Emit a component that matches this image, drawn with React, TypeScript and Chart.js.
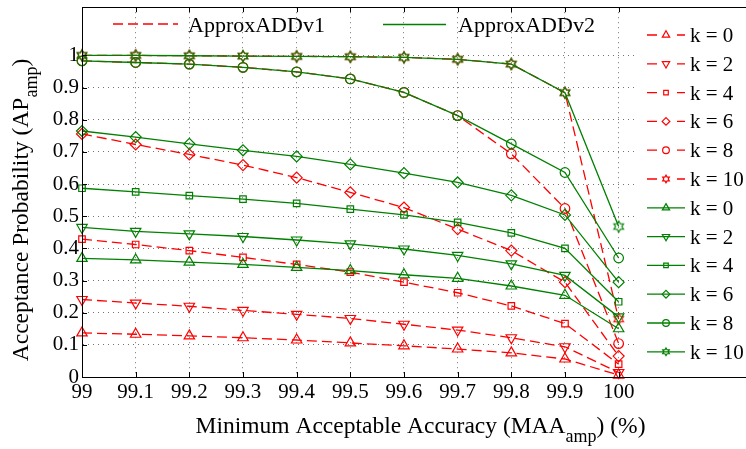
import React, { useEffect, useRef } from 'react';
import { Chart, registerables } from 'chart.js';

Chart.register(...registerables);

// ---------- data ----------
const X_VALUES = [99, 99.1, 99.2, 99.3, 99.4, 99.5, 99.6, 99.7, 99.8, 99.9, 100];
const X_TICKS = [99, 99.1, 99.2, 99.3, 99.4, 99.5, 99.6, 99.7, 99.8, 99.9, 100];
const X_TICK_LABELS = ['99', '99.1', '99.2', '99.3', '99.4', '99.5', '99.6', '99.7', '99.8', '99.9', '100'];
const Y_TICKS = [0, 0.1, 0.2, 0.3, 0.4, 0.5, 0.6, 0.7, 0.8, 0.9, 1];
const Y_TICK_LABELS = ['0', '0.1', '0.2', '0.3', '0.4', '0.5', '0.6', '0.7', '0.8', '0.9', '1'];
const K_LABELS = ['k = 0', 'k = 2', 'k = 4', 'k = 6', 'k = 8', 'k = 10'];
const SERIES_NAMES = ['ApproxADDv1', 'ApproxADDv2'];

// ApproxADDv1 (red dashed)
const V1_K0 = [0.137, 0.133, 0.128, 0.122, 0.115, 0.106, 0.097, 0.087, 0.075, 0.056, 0.006];
const V1_K2 = [0.241, 0.230, 0.220, 0.207, 0.195, 0.182, 0.164, 0.146, 0.122, 0.094, 0.014];
const V1_K4 = [0.429, 0.412, 0.393, 0.372, 0.350, 0.326, 0.295, 0.262, 0.221, 0.166, 0.040];
const V1_K6 = [0.756, 0.723, 0.692, 0.659, 0.620, 0.574, 0.527, 0.460, 0.393, 0.295, 0.065];
const V1_K8 = [0.983, 0.978, 0.973, 0.963, 0.949, 0.927, 0.885, 0.813, 0.694, 0.524, 0.104];
const V1_K10 = [1.0, 1.0, 0.999, 0.998, 0.997, 0.996, 0.994, 0.988, 0.973, 0.884, 0.180];

// ApproxADDv2 (green solid)
const V2_K0 = [0.369, 0.364, 0.357, 0.350, 0.341, 0.331, 0.318, 0.307, 0.283, 0.254, 0.150];
const V2_K2 = [0.465, 0.453, 0.445, 0.437, 0.426, 0.414, 0.398, 0.378, 0.352, 0.316, 0.187];
const V2_K4 = [0.587, 0.576, 0.564, 0.553, 0.540, 0.522, 0.504, 0.481, 0.448, 0.400, 0.234];
const V2_K6 = [0.765, 0.746, 0.725, 0.705, 0.686, 0.661, 0.634, 0.605, 0.565, 0.504, 0.295];
const V2_K8 = [0.983, 0.978, 0.973, 0.963, 0.949, 0.927, 0.885, 0.813, 0.725, 0.636, 0.370];
const V2_K10 = [1.0, 1.0, 0.999, 0.998, 0.997, 0.996, 0.994, 0.988, 0.973, 0.884, 0.468];

const V1_SERIES = [V1_K0, V1_K2, V1_K4, V1_K6, V1_K8, V1_K10];
const V2_SERIES = [V2_K0, V2_K2, V2_K4, V2_K6, V2_K8, V2_K10];

// ---------- styles ----------
const RED = '#ff0000';
const GREEN = '#008000';
const FONT = '"Liberation Serif", "Times New Roman", serif';
const MARKERS = ['triangle', 'triangleDown', 'rect', 'rectRot', 'circle', 'hex'];
const RADII = [6, 6, 4.6, 5.5, 4.8, 5.5];
const DASH = [10, 5];

function hexPath(ctx: CanvasRenderingContext2D, x: number, y: number, R: number) {
  const r = R / Math.sqrt(3);
  ctx.beginPath();
  for (let i = 0; i < 12; i++) {
    const ang = -Math.PI / 2 + (i * Math.PI) / 6;
    const rad = i % 2 === 0 ? R : r;
    const px = x + rad * Math.cos(ang);
    const py = y + rad * Math.sin(ang);
    if (i === 0) ctx.moveTo(px, py);
    else ctx.lineTo(px, py);
  }
  ctx.closePath();
}

function makeHexImage(color: string, R: number, lw: number) {
  const c = document.createElement('canvas');
  const size = 2 * Math.ceil(R + 2);
  c.width = size;
  c.height = size;
  const g = c.getContext('2d')!;
  g.strokeStyle = color;
  g.lineWidth = lw;
  hexPath(g, size / 2, size / 2, R);
  g.stroke();
  return c;
}

function drawMarker(ctx: CanvasRenderingContext2D, style: string, x: number, y: number, r: number) {
  ctx.beginPath();
  if (style === 'triangle' || style === 'triangleDown') {
    const base = style === 'triangle' ? -Math.PI / 2 : Math.PI / 2;
    for (let i = 0; i < 3; i++) {
      const a = base + (i * 2 * Math.PI) / 3;
      const px = x + r * Math.cos(a);
      const py = y + r * Math.sin(a);
      if (i === 0) ctx.moveTo(px, py);
      else ctx.lineTo(px, py);
    }
    ctx.closePath();
  } else if (style === 'rect') {
    const s = r * Math.SQRT1_2;
    ctx.rect(x - s, y - s, 2 * s, 2 * s);
  } else if (style === 'rectRot') {
    ctx.moveTo(x, y - r);
    ctx.lineTo(x + r, y);
    ctx.lineTo(x, y + r);
    ctx.lineTo(x - r, y);
    ctx.closePath();
  } else if (style === 'circle') {
    ctx.arc(x, y, r, 0, Math.PI * 2);
  } else if (style === 'hex') {
    hexPath(ctx, x, y, r);
  }
  ctx.stroke();
}

const overlayPlugin = {
  id: 'overlay',
  afterDraw(chart: any) {
    const ctx: CanvasRenderingContext2D = chart.ctx;
    const { left, top, bottom } = chart.chartArea;
    const W = chart.width;
    const xs = chart.scales.x;
    const ys = chart.scales.y;
    ctx.save();

    // right legend box background
    const boxLeft = 638;
    ctx.fillStyle = '#fff';
    ctx.fillRect(boxLeft, top, W - boxLeft, bottom - top);

    // frame
    ctx.strokeStyle = '#000';
    ctx.lineWidth = 1;
    ctx.setLineDash([]);
    ctx.beginPath();
    ctx.moveTo(left, Math.round(top) + 0.5);
    ctx.lineTo(W, Math.round(top) + 0.5);
    ctx.moveTo(left, Math.round(bottom) + 0.5);
    ctx.lineTo(W, Math.round(bottom) + 0.5);
    ctx.moveTo(Math.round(left) + 0.5, top);
    ctx.lineTo(Math.round(left) + 0.5, bottom + 1);
    ctx.stroke();

    // inward tick marks
    ctx.beginPath();
    X_TICKS.forEach((v) => {
      const px = Math.round(xs.getPixelForValue(v)) + 0.5;
      ctx.moveTo(px, bottom);
      ctx.lineTo(px, bottom - 5);
      ctx.moveTo(px, top);
      ctx.lineTo(px, top + 5);
    });
    Y_TICKS.forEach((v) => {
      const py = Math.round(ys.getPixelForValue(v)) + 0.5;
      ctx.moveTo(left, py);
      ctx.lineTo(left + 5, py);
    });
    ctx.stroke();

    // top legend
    ctx.lineWidth = 1.3;
    ctx.strokeStyle = RED;
    ctx.setLineDash(DASH);
    ctx.beginPath();
    ctx.moveTo(113, 24);
    ctx.lineTo(178, 24);
    ctx.stroke();
    ctx.setLineDash([]);
    ctx.strokeStyle = GREEN;
    ctx.beginPath();
    ctx.moveTo(383, 24.5);
    ctx.lineTo(446, 24.5);
    ctx.stroke();
    ctx.fillStyle = '#000';
    ctx.font = `22px ${FONT}`;
    ctx.textAlign = 'left';
    ctx.textBaseline = 'alphabetic';
    ctx.fillText(SERIES_NAMES[0], 188, 32);
    ctx.fillText(SERIES_NAMES[1], 458, 32);

    // right legend
    ctx.font = `21px ${FONT}`;
    for (let i = 0; i < 12; i++) {
      const isV1 = i < 6;
      const k = i % 6;
      const color = isV1 ? RED : GREEN;
      const y = 35 + i * 28.8;
      ctx.strokeStyle = color;
      ctx.lineWidth = 1.3;
      ctx.setLineDash(isV1 ? DASH : []);
      ctx.beginPath();
      ctx.moveTo(647, y);
      ctx.lineTo(685, y);
      ctx.stroke();
      ctx.setLineDash([]);
      ctx.lineWidth = 1.2;
      if (isV1) {
        ctx.fillStyle = '#fff';
        ctx.fillRect(659, y - 5, 14, 10);
      }
      drawMarker(ctx, MARKERS[k], 666, y, RADII[k] * 0.7);
      ctx.fillStyle = '#000';
      ctx.fillText(K_LABELS[k], 690, y + 7);
    }

    // x title
    ctx.fillStyle = '#000';
    const mainFont = `23.5px ${FONT}`;
    const subFont = `18px ${FONT}`;
    const xa = 'Minimum Acceptable Accuracy (MAA';
    const xb = 'amp';
    const xc = ') (%)';
    ctx.font = mainFont;
    const wa = ctx.measureText(xa).width;
    const wc = ctx.measureText(xc).width;
    ctx.font = subFont;
    const wb = ctx.measureText(xb).width;
    const sx = 420.5 - (wa + wb + wc) / 2;
    ctx.font = mainFont;
    ctx.fillText(xa, sx, 433);
    ctx.font = subFont;
    ctx.fillText(xb, sx + wa, 442);
    ctx.font = mainFont;
    ctx.fillText(xc, sx + wa + wb, 433);

    // y title
    const ya = 'Acceptance Probability (AP';
    const yb = 'amp';
    const yc = ')';
    ctx.font = mainFont;
    const ywa = ctx.measureText(ya).width;
    const ywc = ctx.measureText(yc).width;
    ctx.font = subFont;
    const ywb = ctx.measureText(yb).width;
    ctx.translate(28, 210);
    ctx.rotate(-Math.PI / 2);
    const sy = -(ywa + ywb + ywc) / 2;
    ctx.font = mainFont;
    ctx.fillText(ya, sy, 0);
    ctx.font = subFont;
    ctx.fillText(yb, sy + ywa, 9);
    ctx.font = mainFont;
    ctx.fillText(yc, sy + ywa + ywb, 0);

    ctx.restore();
  },
};

export default function App() {
  const ref = useRef<HTMLCanvasElement>(null);

  useEffect(() => {
    const canvas = ref.current!;
    const hexImgs = [makeHexImage(RED, 5.5, 1.2), makeHexImage(GREEN, 5.5, 1.2)];

    const makeDs = (series: number[][], vi: number) =>
      series.map((vals, k) => {
        const color = vi === 0 ? RED : GREEN;
        const m = MARKERS[k];
        let pointStyle: any = m;
        let rotation = 0;
        if (m === 'triangleDown') {
          pointStyle = 'triangle';
          rotation = 180;
        } else if (m === 'hex') {
          pointStyle = hexImgs[vi];
        }
        return {
          label: `${SERIES_NAMES[vi]} ${K_LABELS[k]}`,
          data: X_VALUES.map((x, i) => ({ x, y: vals[i] })),
          borderColor: color,
          borderWidth: 1.3,
          borderDash: vi === 0 ? DASH : [],
          pointStyle,
          pointRotation: rotation,
          pointRadius: RADII[k],
          pointBorderColor: color,
          pointBackgroundColor: 'rgba(0,0,0,0)',
          pointBorderWidth: 1.2,
          fill: false,
          tension: 0,
          clip: false,
          order: vi === 0 ? 2 : 1,
        };
      });

    const chart = new Chart(canvas, {
      type: 'line',
      data: { datasets: [...makeDs(V1_SERIES, 0), ...makeDs(V2_SERIES, 1)] as any },
      options: {
        responsive: false,
        animation: false,
        devicePixelRatio: 1,
        layout: { padding: { left: 0, top: 5, right: 5, bottom: 0 } },
        plugins: { legend: { display: false }, tooltip: { enabled: false } },
        scales: {
          x: {
            type: 'linear',
            min: 99,
            max: 100.25,
            afterBuildTicks: (scale: any) => {
              scale.ticks = X_TICKS.map((v) => ({ value: v }));
            },
            afterFit: (scale: any) => {
              scale.height = 72;
              scale.paddingLeft = 0;
              scale.paddingRight = 0;
            },
            ticks: {
              autoSkip: false,
              maxRotation: 0,
              padding: 3,
              color: '#000',
              font: { family: FONT, size: 21 },
              callback: (_v: any, i: number) => X_TICK_LABELS[i],
            },
            grid: { color: 'rgba(0,0,0,0.55)', lineWidth: 1, drawTicks: false },
            border: { display: true, color: '#000', width: 1, dash: [1, 4] },
          },
          y: {
            type: 'linear',
            min: 0,
            max: 1.15,
            afterBuildTicks: (scale: any) => {
              scale.ticks = Y_TICKS.map((v) => ({ value: v }));
            },
            afterFit: (scale: any) => {
              scale.width = 82;
              scale.paddingTop = 0;
              scale.paddingBottom = 0;
            },
            ticks: {
              autoSkip: false,
              padding: 3,
              color: '#000',
              font: { family: FONT, size: 21 },
              callback: (_v: any, i: number) => Y_TICK_LABELS[i],
            },
            grid: { color: 'rgba(0,0,0,0.55)', lineWidth: 1, drawTicks: false },
            border: { display: true, color: '#000', width: 1, dash: [1, 4] },
          },
        },
      },
      plugins: [overlayPlugin],
    } as any);

    return () => chart.destroy();
  }, []);

  return (
    <div
      style={{
        position: 'fixed',
        left: 0,
        top: 0,
        width: 746,
        height: 449,
        overflow: 'hidden',
        background: '#fff',
      }}
    >
      <canvas ref={ref} width={760} height={449} style={{ width: 760, height: 449, display: 'block' }} />
    </div>
  );
}
